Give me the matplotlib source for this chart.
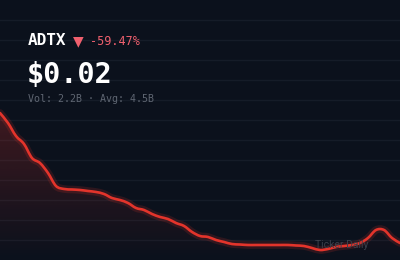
import numpy as np
import matplotlib.pyplot as plt
from matplotlib.colors import LinearSegmentedColormap
from matplotlib.path import Path
from matplotlib.patches import PathPatch

# price series (oldest -> newest)
days = list(range(51))
prices = [0.04930, 0.04705, 0.04412, 0.04232, 0.03916, 0.03803, 0.03578, 0.03285,
          0.03218, 0.03206, 0.03195, 0.03172, 0.03150, 0.03105, 0.03014, 0.02969,
          0.02902, 0.02789, 0.02744, 0.02654, 0.02587, 0.02541, 0.02451, 0.02384,
          0.02249, 0.02158, 0.02136, 0.02068, 0.02023, 0.01977, 0.01966, 0.01955,
          0.01955, 0.01955, 0.01955, 0.01955, 0.01955, 0.01944, 0.01932, 0.01887,
          0.01842, 0.01865, 0.01910, 0.01932, 0.01955, 0.02000, 0.02113, 0.02293,
          0.02293, 0.02113, 0.02000]

ticker = "ADTX"
change_pct = "-59.47%"
last_price = "$0.02"
vol_text = "Vol: 2.2B · Avg: 4.5B"
watermark = "Ticker Daily"

BG = "#0b111c"
RED = "#e3342b"


def smooth_path(x, y):
    # catmull-rom through the points, drawn as cubic bezier segments
    pts = np.column_stack([x, y]).astype(float)
    verts = [pts[0]]
    codes = [Path.MOVETO]
    n = len(pts)
    for i in range(n - 1):
        p0 = pts[max(i - 1, 0)]
        p1, p2 = pts[i], pts[i + 1]
        p3 = pts[min(i + 2, n - 1)]
        verts += [p1 + (p2 - p0) / 6, p2 - (p3 - p1) / 6, p2]
        codes += [Path.CURVE4] * 3
    return verts, codes


fig = plt.figure(figsize=(4, 2.6), dpi=100, facecolor=BG)
ax = fig.add_axes([0, 0, 1, 1])
ax.set_facecolor(BG)

# y range so the chart sits in the lower part of the card
k = 0.0002254
hi = 0.02 + 243 * k
lo = 0.02 - 17 * k
ax.set_ylim(lo, hi)
ax.set_xlim(days[0], days[-1])

for y in np.linspace(hi, lo, 14)[1:-1]:
    ax.axhline(y, color="#151c28", lw=1, zorder=0)

verts, codes = smooth_path(days, prices)

# gradient fill under the line
fill_verts = verts + [(days[-1], lo), (days[0], lo), verts[0]]
fill_codes = codes + [Path.LINETO, Path.LINETO, Path.CLOSEPOLY]
fill_path = Path(fill_verts, fill_codes)

grad = LinearSegmentedColormap.from_list("g", [(0.89, 0.2, 0.17, 0.0), (0.89, 0.2, 0.17, 0.24)])
img = ax.imshow(np.linspace(0, 1, 256).reshape(-1, 1), cmap=grad, aspect="auto",
                extent=[days[0], days[-1], lo, max(prices)], origin="lower", zorder=1)
img.set_clip_path(fill_path, transform=ax.transData)

# glow + line
line_path = Path(verts, codes)
ax.add_patch(PathPatch(line_path, fill=False, edgecolor=RED, lw=5.5, alpha=0.16,
                       capstyle="round", zorder=2))
ax.add_patch(PathPatch(line_path, fill=False, edgecolor=RED, lw=1.9,
                       capstyle="round", zorder=3))

ax.axis("off")

mono = "DejaVu Sans Mono"
fig.text(28 / 400, 1 - 45 / 260, ticker, color="white", fontsize=11.5,
         fontweight="bold", family=mono)
fig.text(73 / 400, 1 - 45 / 260, "▼", color="#f0606e", fontsize=10, family="DejaVu Sans")
fig.text(90 / 400, 1 - 45 / 260, change_pct, color="#f0606e", fontsize=8.5, family=mono)
fig.text(27 / 400, 1 - 83 / 260, last_price, color="white", fontsize=20.5,
         fontweight="bold", family=mono)
fig.text(28 / 400, 1 - 102 / 260, vol_text, color="#5f6672", fontsize=7.2, family=mono)
fig.text(315 / 400, 1 - 248 / 260, watermark, color="#3a404b", fontsize=7.5,
         family="Roboto")

fig.savefig("out.png", dpi=100, facecolor=BG)
